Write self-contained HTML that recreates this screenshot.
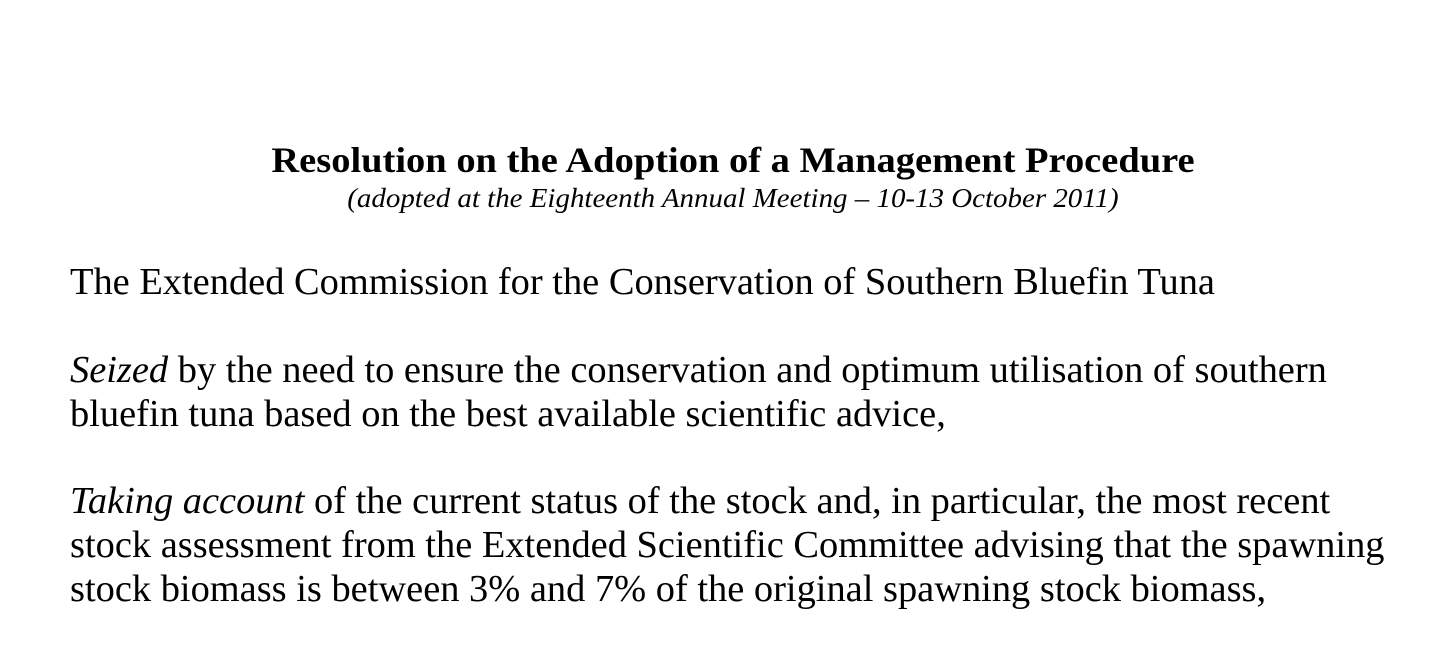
<!DOCTYPE html>
<html>
<head>
<meta charset="utf-8">
<style>
  html,body{margin:0;padding:0;background:#fff;}
  body{width:1443px;height:652px;position:relative;overflow:hidden;font-family:"Liberation Serif","Times New Roman",serif;color:#000;}
  .t{position:absolute;white-space:nowrap;}
  #title{left:0;width:1466px;text-align:center;top:142px;font-size:36px;line-height:36px;font-weight:bold;transform:scaleX(1.069);transform-origin:733px 0;}
  #sub{left:0;width:1466px;text-align:center;top:185px;font-size:27px;line-height:27px;font-style:italic;transform:scaleX(1.072);transform-origin:733px 0;}
  .p{left:70px;font-size:38px;line-height:44px;transform:scaleX(1.011);transform-origin:0 0;}
</style>
</head>
<body>
  <div id="title" class="t">Resolution on the Adoption of a Management Procedure</div>
  <div id="sub" class="t">(adopted at the Eighteenth Annual Meeting – 10-13 October 2011)</div>
  <div class="t p" style="top:260px">The Extended Commission for the Conservation of Southern Bluefin Tuna</div>
  <div class="t p" style="top:348px"><i>Seized</i> by the need to ensure the conservation and optimum utilisation of southern<br>bluefin tuna based on the best available scientific advice,</div>
  <div class="t p" style="top:479px"><i>Taking account</i> of the current status of the stock and, in particular, the most recent<br>stock assessment from the Extended Scientific Committee advising that the spawning<br>stock biomass is between 3% and 7% of the original spawning stock biomass,</div>
</body>
</html>
